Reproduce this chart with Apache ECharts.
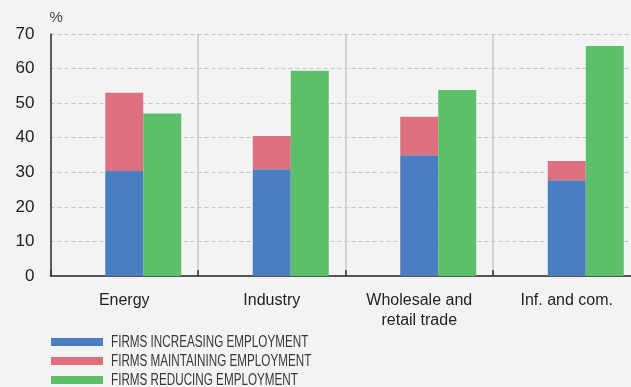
<!DOCTYPE html>
<html><head><meta charset="utf-8">
<script src="https://cdn.jsdelivr.net/npm/echarts@6/dist/echarts.min.js"></script>
<style>html,body{margin:0;padding:0;background:#f2f4f3;}#c{width:631px;height:387px;}</style>
</head><body><div id="c"></div>
<script>
const categories = ['Energy', 'Industry', 'Wholesale and\nretail trade', 'Inf. and com.'];
const increasing = [30.4, 30.9, 34.9, 27.7];
const maintaining = [22.6, 9.6, 11.2, 5.6];
const reducing = [47.0, 59.4, 53.8, 66.5];
const yTicks = [0, 10, 20, 30, 40, 50, 60, 70];
const seriesNames = ['FIRMS INCREASING EMPLOYMENT', 'FIRMS MAINTAINING EMPLOYMENT', 'FIRMS REDUCING EMPLOYMENT'];
const emptySlot = categories.map(() => null);

const chart = echarts.init(document.getElementById('c'), null, {renderer: 'canvas'});
const font = '"Liberation Sans", Arial, sans-serif';
const legendTops = [338, 357, 376];
chart.setOption({
  backgroundColor: '#f2f4f3',
  animation: false,
  grid: {left: 50.5, top: 34, width: 590, height: 242, outerBoundsMode: 'none', containLabel: false},
  legend: seriesNames.map((n, i) => ({
    orient: 'horizontal', left: 51, top: legendTops[i], padding: 0,
    itemWidth: 52, itemHeight: 8, itemGap: 0,
    icon: 'rect',
    data: [n],
    formatter: () => '',
    textStyle: {fontSize: 6, padding: 0},
    selectedMode: false
  })),
  graphic: seriesNames.map((n, i) => ({
    type: 'text', x: 111, y: legendTops[i] + 4.5, scaleX: 0.73,
    style: {text: n, fontFamily: font, fontSize: 16, fill: '#383838', textVerticalAlign: 'middle', textAlign: 'left'}
  })),
  xAxis: {
    type: 'category', data: categories,
    axisLine: {lineStyle: {color: '#555', width: 2}},
    axisTick: {show: true, inside: true, length: 6, lineStyle: {color: '#333', width: 1.5}},
    splitLine: {show: true, lineStyle: {color: '#c8c8c8', width: 1.5}},
    axisLabel: {fontFamily: font, fontSize: 16, color: '#222', margin: 15, lineHeight: 20}
  },
  yAxis: {
    type: 'value', min: yTicks[0], max: yTicks[yTicks.length - 1], interval: 10,
    name: '%', nameLocation: 'end', nameGap: 9,
    nameTextStyle: {fontFamily: font, fontSize: 15, color: '#444', align: 'left', padding: [0, 0, 0, -1]},
    axisLine: {show: true, lineStyle: {color: '#333', width: 1.5}},
    axisTick: {show: false},
    splitLine: {lineStyle: {color: '#c4c4c4', type: [4, 3], width: 1.2}},
    axisLabel: {fontFamily: font, fontSize: 17, color: '#222', margin: 16}
  },
  series: [
    {name: '_slot', type: 'bar', data: emptySlot, barWidth: 38, barGap: 0},
    {name: seriesNames[0], type: 'bar', stack: 'a', data: increasing, barWidth: 38, barGap: 0,
      itemStyle: {color: '#4a7ec0'}},
    {name: seriesNames[1], type: 'bar', stack: 'a', data: maintaining, barWidth: 38, barGap: 0,
      itemStyle: {color: '#dc707e'}},
    {name: seriesNames[2], type: 'bar', data: reducing, barWidth: 38, barGap: 0,
      itemStyle: {color: '#5ebf6b'}}
  ]
});
</script></body></html>
